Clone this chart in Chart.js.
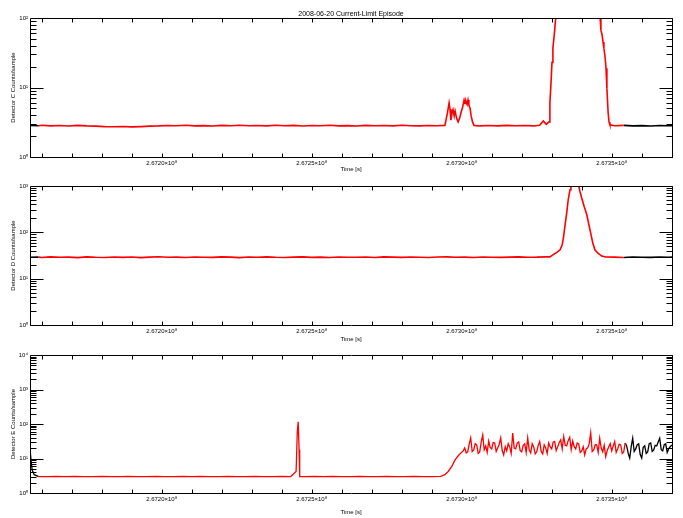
<!DOCTYPE html>
<html><head><meta charset="utf-8">
<script src="https://cdn.jsdelivr.net/npm/chart.js@4.4.1/dist/chart.umd.min.js"></script>
<style>
html,body{margin:0;padding:0;background:#fff;}
body{width:683px;height:518px;position:relative;overflow:hidden;}
canvas{position:absolute;left:0;}
</style></head><body>
<canvas id="c1" width="683" height="175" style="top:0px"></canvas>
<canvas id="c2" width="683" height="170" style="top:175px"></canvas>
<canvas id="c3" width="683" height="173" style="top:345px"></canvas>
<script>
// ---------------- DATA ----------------
const TITLE = '2008-06-20 Current-Limit Episode';
const X_LABEL = 'Time [s]';
const T0 = 267000000;           // seconds; sample times below are kiloseconds after T0
const X_MIN = 156.1, X_MAX = 370.1;
const RED_START = 159, RED_END = 354.5;
const xTickValues = [267200000, 267250000, 267300000, 267350000];
const xTickLabels = ['2.6720\u00d710\u2078', '2.6725\u00d710\u2078', '2.6730\u00d710\u2078', '2.6735\u00d710\u2078'];
const X_MINOR_STEP = 10000;

// Detector C
const tC = [156.1,159,160,163,166,169,172,175,178,181,184,187,190,193,196,199,202,205,208,211,214,217,220,223,226,229,232,235,238,241,244,247,250,253,256,259,262,265,268,271,274,277,280,283,286,289,292,
  294.4,295.2,295.8,296.1,296.4,296.8,297.1,297.5,297.8,298.3,298.8,299.3,299.8,300.3,300.8,301.1,301.4,301.8,302.1,302.4,302.8,303.1,303.6,304.1,
  306,309,312,315,318,321,324,326,327.2,328.2,329.1,329.4,329.7,330.1,330.4,331.0,331.4,332,345.5,346.1,346.4,346.8,347.1,347.4,347.8,348.1,348.4,348.8,349.1,349.4,351,354,357,360,363,366,369,370.1];
const vC = [2.85,2.82,2.86,2.8,2.84,2.79,2.85,2.8,2.78,2.74,2.72,2.75,2.71,2.74,2.78,2.8,2.84,2.81,2.86,2.8,2.83,2.79,2.85,2.82,2.87,2.81,2.84,2.8,2.86,2.82,2.85,2.79,2.84,2.81,2.86,2.8,2.83,2.79,2.85,2.81,2.84,2.8,2.86,2.82,2.8,2.84,2.81,
  2.85,4.2,6.0,4.9,3.4,4.4,4.8,3.9,4.6,3.6,3.2,3.6,4.4,5.2,6.6,5.9,6.4,5.7,6.6,5.6,5.0,4.0,3.2,2.85,
  2.8,2.84,2.8,2.85,2.81,2.84,2.8,2.86,3.3,2.95,3.2,6.0,10.2,23,37,67,110,400,400,110,67,57,45,37,27,19,9.8,4.4,3.2,2.9,2.82,2.85,2.8,2.83,2.79,2.84,2.81,2.83];
const yTicksC = [1, 10, 100];
const yLabelsC = ['10\u2070', '10\u00b9', '10\u00b2'];

// Detector D
const tD = [156.1,159,160,163,166,169,172,175,178,181,184,187,190,193,196,199,202,205,208,211,214,217,220,223,226,229,232,235,238,241,244,247,250,253,256,259,262,265,268,271,274,277,280,283,286,289,292,295,298,301,304,307,310,313,316,319,322,325,328,
  329.4,330.5,331.7,332.8,333.5,333.9,334.4,335.0,335.5,336.1,336.4,337.5,338.9,339.4,340.0,340.8,341.7,342.4,343.1,343.7,344.4,345.5,346.7,348,
  351,354,357,360,363,366,369,370.1];
const vD = [29.0,29.2,28.6,29.5,28.9,29.1,28.4,29.6,29.0,28.7,29.3,28.8,29.4,28.5,29.1,29.7,28.9,29.2,28.6,29.4,29.0,28.8,29.5,29.1,28.5,29.3,28.9,29.6,29.0,28.7,29.2,29.5,28.8,29.1,28.6,29.4,29.0,28.9,29.3,28.6,29.5,29.1,28.8,29.4,29.0,28.7,29.3,29.6,28.9,29.1,28.6,29.4,29.0,28.8,29.2,29.5,28.9,29.1,29.6,
  29.6,33,37,42,54,75,135,261,505,830,1100,1300,1100,769,550,365,240,146,89,59,42,35,30.7,29.3,
  29.1,28.7,29.4,29.0,28.8,29.3,29.0,29.2];
const yTicksD = [1, 10, 100, 1000];
const yLabelsD = ['10\u2070', '10\u00b9', '10\u00b2', '10\u00b3'];

// Detector E
const tE = [156.1,156.8,157.5,159,162,165,168,171,174,177,180,183,186,189,192,195,198,201,204,207,210,213,216,219,222,225,228,231,234,237,240,243,
  244.8,245.2,245.5,245.8,246.0,
  248,251,254,257,260,263,266,269,272,275,278,281,284,287,290,293,
  294.4,295.5,296.7,297.8,298.9,300.0,300.5,
  301,301.5,302,302.5,303,303.5,304,304.5,305,305.5,306,306.5,307,307.5,308,308.5,309,309.5,310,310.5,
  311,311.5,312,312.5,313,313.5,314,314.5,315,315.5,316,316.5,317,317.5,318,318.5,319,319.5,320,320.5,
  321,321.5,322,322.5,323,323.5,324,324.5,325,325.5,326,326.5,327,327.5,328,328.5,329,329.5,330,330.5,
  331,331.5,332,332.5,333,333.5,334,334.5,335,335.5,336,336.5,337,337.5,338,338.5,339,339.5,340,340.5,
  341,341.5,342,342.5,343,343.5,344,344.5,345,345.5,346,346.5,347,347.5,348,348.5,349,349.5,350,350.5,
  351,351.5,352,352.5,353,353.5,354,354.5,355,355.5,356,356.5,357,357.5,358,358.5,359,359.5,360,360.5,
  361,361.5,362,362.5,363,363.5,364,364.5,365,365.5,366,366.5,367,367.5,368,368.5,369,369.5,370.1];
const vE = [17.8,4.7,3.4,3.0,2.97,3.03,2.98,3.02,3.0,2.97,3.03,3.0,2.98,3.02,2.97,3.0,3.03,2.98,3.0,3.02,2.97,3.03,3.0,2.98,3.02,3.0,2.97,3.03,2.98,3.0,3.02,2.99,
  4.2,60,116,17.8,3.0,
  3.0,3.02,2.97,3.03,2.98,3.0,3.02,2.97,3.0,3.03,2.98,3.0,3.02,2.98,3.0,3.03,
  3.4,4.2,5.9,9.1,12.2,15.3,16.6,
  20.3,14.5,15.6,26,39.5,16,17.8,27,24.8,14,15.6,30,48,18,23.2,15,32,21,19,29,
  28.3,16,20.3,26,39.5,17,12.7,22,16.6,27,21.7,14,55,20,19,28,30.2,17,15.6,24,
  26.5,15,39.5,18,14.6,27,21.7,13.5,15.6,24,31,16,13.6,25,20.3,14,28.3,22,19,30,
  31,17,21.7,29,34.5,19,43,24,23.2,33,41,18,32,22,19,28,26.5,15,16.6,22,
  12.7,19,20.3,27,55,16,17.8,25,24.8,15,38.6,20,15.6,24,11.4,17,21.7,27,16.6,23,
  31,15,19,26,24.8,14,15.6,28,23.2,14,10.3,22,38.6,16,19,25,26.5,13,10.3,21,
  23.2,14,15.6,27,28.3,16,17.8,24,23.2,30,38.6,18,16.6,25,26.5,15,19,22,24.8];
const yTicksE = [1, 10, 100, 1000, 10000];
const yLabelsE = ['10\u2070', '10\u00b9', '10\u00b2', '10\u00b3', '10\u2074'];

// ---------------- CHARTS ----------------
const FONT = 'Liberation Sans';
Chart.defaults.font.family = FONT;
Chart.defaults.color = '#000';

const boxPlugin = {
  id: 'idlbox',
  afterDatasetsDraw(chart) {
    const {ctx, chartArea: a, scales: {x, y}} = chart;
    ctx.save();
    ctx.strokeStyle = '#000';
    ctx.lineWidth = 1;
    const L = Math.round(a.left) + 0.5, R = Math.round(a.right) + 0.5;
    const T = Math.round(a.top) + 0.5, B = Math.round(a.bottom) + 0.5;
    ctx.beginPath();
    ctx.rect(L, T, R - L, B - T);
    for (let v = Math.ceil(x.min / X_MINOR_STEP) * X_MINOR_STEP; v <= x.max; v += X_MINOR_STEP) {
      const px = Math.round(x.getPixelForValue(v)) + 0.5;
      ctx.moveTo(px, B); ctx.lineTo(px, B - 4);
      ctx.moveTo(px, T); ctx.lineTo(px, T + 4);
    }
    for (let d = y.min; d < y.max * 0.999; d *= 10) {
      for (let m = 1; m < 10; m++) {
        const py = Math.round(y.getPixelForValue(d * m)) + 0.5;
        const len = m === 1 ? 13 : 6;
        ctx.moveTo(L, py); ctx.lineTo(L + len, py);
        ctx.moveTo(R, py); ctx.lineTo(R - len, py);
      }
    }
    ctx.stroke();
    ctx.restore();
  }
};

function makeChart(id, t, v, yTicks, yLabels, yTitle, padTop, xHeight, withTitle, lw) {
  const pts = t.map((tt, i) => ({tt, p: {x: T0 + tt * 1000, y: v[i]}}));
  const redPts = pts.filter(o => o.tt >= RED_START && o.tt <= RED_END);
  const firstRed = redPts[0].tt, lastRed = redPts[redPts.length - 1].tt;
  const red = redPts.map(o => o.p);
  const black = [];
  pts.forEach(o => { if (o.tt <= firstRed) black.push(o.p); });
  black.push({x: T0 + (firstRed + lastRed) / 2 * 1000, y: null});
  pts.forEach(o => { if (o.tt >= lastRed) black.push(o.p); });
  return new Chart(document.getElementById(id), {
    type: 'line',
    data: {datasets: [
      {data: black, order: 2, borderColor: '#000000', borderWidth: lw, pointRadius: 0, tension: 0, fill: false, spanGaps: false},
      {data: red, order: 1, borderColor: '#ff0000', borderWidth: lw, pointRadius: 0, tension: 0, fill: false}
    ]},
    options: {
      responsive: false, animation: false, devicePixelRatio: 1,
      layout: {padding: {top: padTop, left: 0, right: 11, bottom: 0}},
      plugins: {
        legend: {display: false}, tooltip: {enabled: false},
        title: {display: withTitle, text: TITLE, fullSize: false, color: '#000',
                font: {size: 7, family: FONT, weight: 'normal'}, padding: {top: 9.6, bottom: 0}}
      },
      scales: {
        x: {
          type: 'linear', min: T0 + X_MIN * 1000, max: T0 + X_MAX * 1000, bounds: 'data',
          grid: {display: false, drawTicks: false}, border: {display: false},
          afterBuildTicks: s => { s.ticks = xTickValues.map(val => ({value: val})); },
          afterFit: s => { s.height = xHeight; },
          ticks: {autoSkip: false, maxRotation: 0, padding: 3, font: {size: 6}, callback: (val, i) => xTickLabels[i]},
          title: {display: true, text: X_LABEL, font: {size: 6}, padding: {top: 0, bottom: 2.4}}
        },
        y: {
          type: 'logarithmic', min: yTicks[0], max: yTicks[yTicks.length - 1], bounds: 'data',
          grid: {display: false, drawTicks: false}, border: {display: false},
          afterBuildTicks: s => { s.ticks = yTicks.map(val => ({value: val})); },
          afterFit: s => { s.width = 30; },
          ticks: {autoSkip: false, padding: 2, font: {size: 6}, callback: (val, i) => yLabels[i]},
          title: {display: true, text: yTitle, font: {size: 6}, padding: {top: 9.4, bottom: 0}}
        }
      }
    },
    plugins: [boxPlugin]
  });
}

makeChart('c1', tC, vC, yTicksC, yLabelsC, 'Detector C Counts/sample', 0, 18, true, 1.6);
makeChart('c2', tD, vD, yTicksD, yLabelsD, 'Detector D Counts/sample', 11, 20, false, 1.6);
makeChart('c3', tE, vE, yTicksE, yLabelsE, 'Detector E Counts/sample', 10, 25, false, 1.3);
</script>
</body></html>
